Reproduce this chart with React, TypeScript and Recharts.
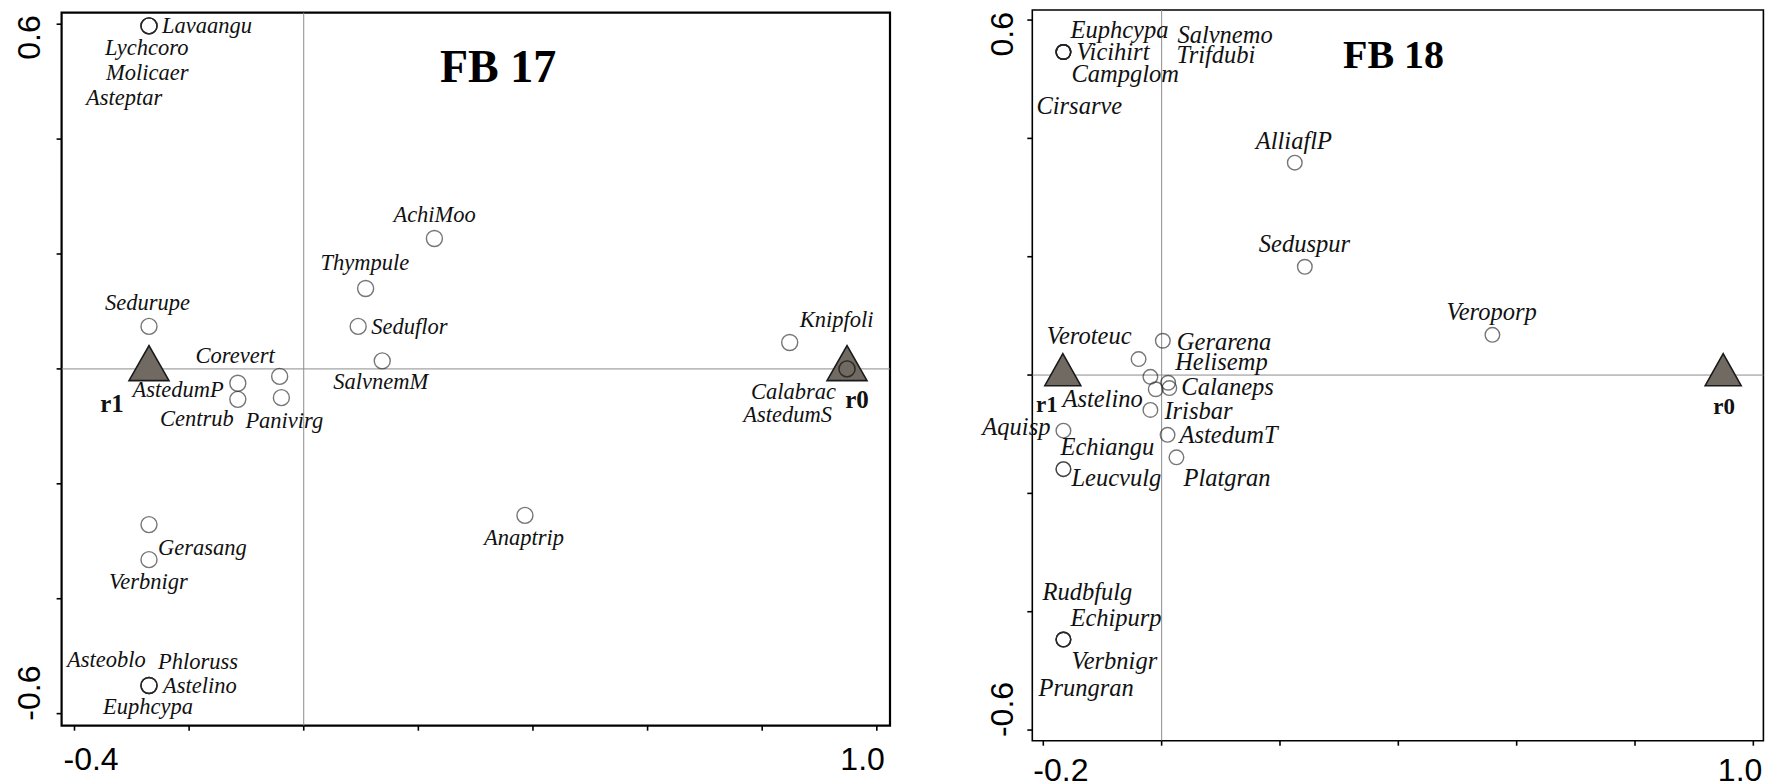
import React from 'react';
import { ScatterChart, Scatter, XAxis, YAxis, ReferenceLine, ReferenceArea } from 'recharts';

// ---------- FB 17 ----------
const fb17Species = [
  'Lavaangu', 'Lychcoro', 'Molicaer', 'Asteptar', 'AchiMoo', 'Thympule', 'Seduflor', 'SalvnemM',
  'Sedurupe', 'Corevert', 'AstedumP', 'Centrub', 'Panivirg', 'Gerasang', 'Verbnigr', 'Anaptrip',
  'Asteoblo', 'Phloruss', 'Astelino', 'Euphcypa', 'Knipfoli', 'Calabrac', 'AstedumS',
];
const fb17Axis1 = [
  -0.27, -0.27, -0.27, -0.27, 0.228, 0.108, 0.095, 0.137,
  -0.27, -0.042, -0.115, -0.115, -0.039, -0.27, -0.27, 0.386,
  -0.27, -0.27, -0.27, -0.27, 0.848, 0.948, 0.948,
];
const fb17Axis2 = [
  0.597, 0.597, 0.597, 0.597, 0.227, 0.14, 0.074, 0.014,
  0.074, -0.013, -0.025, -0.053, -0.05, -0.271, -0.332, -0.255,
  -0.551, -0.551, -0.551, -0.551, 0.046, 0, 0,
];
const fb17Centroids = ['r1', 'r0'];
const fb17CentroidAxis1 = [-0.27, 0.948];
const fb17CentroidAxis2 = [0, 0];
const fb17XTicks = [-0.4, -0.2, 0, 0.2, 0.4, 0.6, 0.8, 1.0];
const fb17XTickLabels = ['-0.4', '', '', '', '', '', '', '1.0'];
const fb17YTicks = [-0.6, -0.4, -0.2, 0, 0.2, 0.4, 0.6];
const fb17YTickLabels = ['-0.6', '', '', '', '', '', '0.6'];

// ---------- FB 18 ----------
const fb18Species = [
  'Euphcypa', 'Vicihirt', 'Campglom', 'Salvnemo', 'Trifdubi', 'Cirsarve', 'AlliaflP', 'Seduspur',
  'Veroporp', 'Gerarena', 'Veroteuc', 'Helisemp', '', 'Astelino', 'Calaneps', 'Irisbar',
  'AstedumT', 'Platgran', 'Aquisp', 'Leucvulg', 'Echiangu', 'Rudbfulg', 'Echipurp', 'Verbnigr', 'Prungran',
];
const fb18Axis1 = [
  -0.166, -0.166, -0.166, -0.166, -0.166, -0.166, 0.225, 0.242,
  0.559, 0.002, -0.039, 0.011, -0.019, -0.01, 0.013, -0.019,
  0.01, 0.025, -0.166, -0.166, -0.166, -0.166, -0.166, -0.166, -0.166,
];
const fb18Axis2 = [
  0.546, 0.546, 0.546, 0.546, 0.546, 0.546, 0.359, 0.183,
  0.068, 0.058, 0.027, -0.013, -0.003, -0.024, -0.022, -0.059,
  -0.101, -0.139, -0.094, -0.159, -0.159, -0.447, -0.447, -0.447, -0.447,
];
const fb18Centroids = ['r1', 'r0'];
const fb18CentroidAxis1 = [-0.167, 0.949];
const fb18CentroidAxis2 = [0, 0];
const fb18XTicks = [-0.2, 0, 0.2, 0.4, 0.6, 0.8, 1.0];
const fb18XTickLabels = ['-0.2', '', '', '', '', '', '1.0'];
const fb18YTicks = [-0.6, -0.4, -0.2, 0, 0.2, 0.4, 0.6];
const fb18YTickLabels = ['-0.6', '', '', '', '', '', '0.6'];

// ---------- layout (label offsets in px from the point) ----------
type Anchor = 'start' | 'middle' | 'end';
type LabelPos = Record<string, [number, number, Anchor]>;

const fb17LabelPos: LabelPos = {
  Lavaangu: [13, 7, 'start'],
  Lychcoro: [-44, 29, 'start'],
  Molicaer: [-43, 54, 'start'],
  Asteptar: [-63, 79, 'start'],
  AchiMoo: [-41, -16, 'start'],
  Thympule: [-45, -18, 'start'],
  Seduflor: [13, 8, 'start'],
  SalvnemM: [-49, 28, 'start'],
  Sedurupe: [-44, -16, 'start'],
  Corevert: [-5, -13, 'end'],
  AstedumP: [-14, 14, 'end'],
  Centrub: [-4, 27, 'end'],
  Panivirg: [-36, 30, 'start'],
  Gerasang: [9, 30, 'start'],
  Verbnigr: [-40, 29, 'start'],
  Anaptrip: [-41, 30, 'start'],
  Asteoblo: [-82, -18, 'start'],
  Phloruss: [9, -16, 'start'],
  Astelino: [14, 8, 'start'],
  Euphcypa: [-46, 29, 'start'],
  Knipfoli: [10, -15, 'start'],
  Calabrac: [-11, 30, 'end'],
  AstedumS: [-15, 53, 'end'],
};
const fb17CentroidPos: LabelPos = { r1: [-37, 43, 'middle'], r0: [10, 39, 'middle'] };

const fb18LabelPos: LabelPos = {
  Euphcypa: [7, -14, 'start'],
  Vicihirt: [13, 8, 'start'],
  Campglom: [8, 30, 'start'],
  Salvnemo: [114, -9, 'start'],
  Trifdubi: [113, 11, 'start'],
  Cirsarve: [-27, 62, 'start'],
  AlliaflP: [-39, -14, 'start'],
  Seduspur: [-46, -15, 'start'],
  Veroporp: [-46, -15, 'start'],
  Gerarena: [14, 9, 'start'],
  Veroteuc: [-7, -15, 'end'],
  Helisemp: [7, -13, 'start'],
  Astelino: [-13, 18, 'end'],
  Calaneps: [12, 7, 'start'],
  Irisbar: [14, 9, 'start'],
  AstedumT: [12, 8, 'start'],
  Platgran: [7, 29, 'start'],
  Aquisp: [-13, 4, 'end'],
  Leucvulg: [8, 17, 'start'],
  Echiangu: [-3, -14, 'start'],
  Rudbfulg: [-21, -40, 'start'],
  Echipurp: [7, -14, 'start'],
  Verbnigr: [8, 29, 'start'],
  Prungran: [-25, 56, 'start'],
};
const fb18CentroidPos: LabelPos = { r1: [-16, 37, 'middle'], r0: [1, 39, 'middle'] };

const SERIF = "'Liberation Serif', 'Times New Roman', Times, serif";
const SANS = "'Liberation Sans', Arial, Helvetica, sans-serif";
const H = 783;

const zip = (names: string[], xs: number[], ys: number[]) =>
  names.map((name, i) => ({ name, x: xs[i], y: ys[i] }));

const near = (a: number, b: number) => Math.abs(a - b) < 1e-9;

interface PanelProps {
  left: number;
  width: number;
  top: number;
  right: number;
  yAxisWidth: number;
  xAxisHeight: number;
  xDomain: [number, number];
  yDomain: [number, number];
  xTicks: number[];
  xTickLabels: string[];
  yTicks: number[];
  yTickLabels: string[];
  species: { name: string; x: number; y: number }[];
  centroids: { name: string; x: number; y: number }[];
  labelPos: LabelPos;
  centroidPos: LabelPos;
  circleR: number;
  labelSize: number;
  centroidSize: number;
  triW: number;
  triH: number;
  frameWidth: number;
  xLab: { startDx: number; endDx: number; dy: number };
  yLab: { dx: number; topDy: number; bottomDy: number };
  title: string;
  titleX: number;
  titleY: number;
  titleSize: number;
}

const Panel = (p: PanelProps) => {
  const xTick = (props: any) => {
    const { x, y, payload } = props;
    const i = p.xTicks.findIndex((t) => near(t, payload.value));
    const label = p.xTickLabels[i];
    if (!label) return <g />;
    const first = i === 0;
    return (
      <text
        x={x + (first ? p.xLab.startDx : p.xLab.endDx)}
        y={y + p.xLab.dy}
        textAnchor={first ? 'start' : 'end'}
        fontFamily={SANS}
        fontSize={32}
        fill="#000"
      >
        {label}
      </text>
    );
  };

  const yTick = (props: any) => {
    const { x, y, payload } = props;
    const i = p.yTicks.findIndex((t) => near(t, payload.value));
    const label = p.yTickLabels[i];
    if (!label) return <g />;
    const isTop = i === p.yTicks.length - 1;
    const tx = x + p.yLab.dx;
    const ty = y + (isTop ? p.yLab.topDy : p.yLab.bottomDy);
    return (
      <text
        x={tx}
        y={ty}
        transform={`rotate(-90 ${tx} ${ty})`}
        textAnchor={isTop ? 'end' : 'start'}
        fontFamily={SANS}
        fontSize={32}
        fill="#000"
      >
        {label}
      </text>
    );
  };

  const speciesShape = (props: any) => {
    const { cx, cy, payload } = props;
    const pos = p.labelPos[payload.name];
    return (
      <g>
        <circle cx={cx} cy={cy} r={p.circleR} fill="none" stroke="#222" strokeOpacity={0.62} strokeWidth={1.4} />
        {pos && (
          <text
            x={cx + pos[0]}
            y={cy + pos[1]}
            textAnchor={pos[2]}
            fontFamily={SERIF}
            fontStyle="italic"
            fontSize={p.labelSize}
            fill="#111"
          >
            {payload.name}
          </text>
        )}
      </g>
    );
  };

  const centroidShape = (props: any) => {
    const { cx, cy, payload } = props;
    const pos = p.centroidPos[payload.name];
    const w = p.triW / 2;
    const pts = `${cx - w},${cy + p.triH / 3} ${cx + w},${cy + p.triH / 3} ${cx},${cy - (2 * p.triH) / 3}`;
    return (
      <g>
        <polygon points={pts} fill="#716a62" stroke="#1a1a1a" strokeWidth={1.6} strokeLinejoin="miter" />
        {pos && (
          <text
            x={cx + pos[0]}
            y={cy + pos[1]}
            textAnchor={pos[2]}
            fontFamily={SERIF}
            fontWeight="bold"
            fontSize={p.centroidSize}
            fill="#111"
          >
            {payload.name}
          </text>
        )}
      </g>
    );
  };

  return (
    <div style={{ position: 'absolute', left: p.left, top: 0, width: p.width, height: H }}>
      <ScatterChart
        width={p.width}
        height={H}
        margin={{ top: p.top, right: p.right, bottom: 0, left: 0 }}
      >
        <XAxis
          type="number"
          dataKey="x"
          domain={p.xDomain}
          ticks={p.xTicks}
          interval={0}
          height={p.xAxisHeight}
          axisLine={false}
          tickSize={5}
          tickLine={{ stroke: '#000', strokeWidth: 1.6 }}
          tick={xTick}
        />
        <YAxis
          type="number"
          dataKey="y"
          domain={p.yDomain}
          ticks={p.yTicks}
          interval={0}
          width={p.yAxisWidth}
          axisLine={false}
          tickSize={5}
          tickLine={{ stroke: '#000', strokeWidth: 1.6 }}
          tick={yTick}
        />
        <ReferenceLine x={0} stroke="#8c8c8c" strokeWidth={1} />
        <ReferenceLine y={0} stroke="#8c8c8c" strokeWidth={1} />
        <ReferenceArea
          x1={p.xDomain[0]}
          x2={p.xDomain[1]}
          y1={p.yDomain[0]}
          y2={p.yDomain[1]}
          fill="none"
          fillOpacity={0}
          stroke="#000"
          strokeWidth={p.frameWidth}
          ifOverflow="visible"
        />
        <Scatter data={p.centroids} shape={centroidShape} isAnimationActive={false} />
        <Scatter data={p.species} shape={speciesShape} isAnimationActive={false} />
      </ScatterChart>
      <svg
        width={p.width}
        height={H}
        style={{ position: 'absolute', left: 0, top: 0, pointerEvents: 'none' }}
      >
        <text
          x={p.titleX - p.left}
          y={p.titleY}
          fontFamily={SERIF}
          fontWeight="bold"
          fontSize={p.titleSize}
          fill="#000"
        >
          {p.title}
        </text>
      </svg>
    </div>
  );
};

export default function App() {
  return (
    <div style={{ position: 'absolute', left: 0, top: 0, width: 1769, height: H, background: '#fff', overflow: 'hidden' }}>
      <Panel
        left={0}
        width={900}
        top={12.7}
        right={10}
        yAxisWidth={61.6}
        xAxisHeight={57.3}
        xDomain={[-0.4225, 1.023]}
        yDomain={[-0.621, 0.62]}
        xTicks={fb17XTicks}
        xTickLabels={fb17XTickLabels}
        yTicks={fb17YTicks}
        yTickLabels={fb17YTickLabels}
        species={zip(fb17Species, fb17Axis1, fb17Axis2)}
        centroids={zip(fb17Centroids, fb17CentroidAxis1, fb17CentroidAxis2)}
        labelPos={fb17LabelPos}
        centroidPos={fb17CentroidPos}
        circleR={8}
        labelSize={22.5}
        centroidSize={25}
        triW={40}
        triH={35}
        frameWidth={2.2}
        xLab={{ startDx: -11, endDx: 8, dy: 37 }}
        yLab={{ dx: -14.6, topDy: -9, bottomDy: 7 }}
        title="FB 17"
        titleX={440}
        titleY={82}
        titleSize={46}
      />
      <Panel
        left={960}
        width={809}
        top={10}
        right={5.6}
        yAxisWidth={72.3}
        xAxisHeight={42.3}
        xDomain={[-0.2186, 1.017]}
        yDomain={[-0.618, 0.617]}
        xTicks={fb18XTicks}
        xTickLabels={fb18XTickLabels}
        yTicks={fb18YTicks}
        yTickLabels={fb18YTickLabels}
        species={zip(fb18Species, fb18Axis1, fb18Axis2)}
        centroids={zip(fb18Centroids, fb18CentroidAxis1, fb18CentroidAxis2)}
        labelPos={fb18LabelPos}
        centroidPos={fb18CentroidPos}
        circleR={7.3}
        labelSize={24.5}
        centroidSize={23}
        triW={36}
        triH={32}
        frameWidth={1.6}
        xLab={{ startDx: -10, endDx: 9, dy: 33 }}
        yLab={{ dx: -12.3, topDy: -8, bottomDy: 7 }}
        title="FB 18"
        titleX={1343}
        titleY={68}
        titleSize={40}
      />
    </div>
  );
}
